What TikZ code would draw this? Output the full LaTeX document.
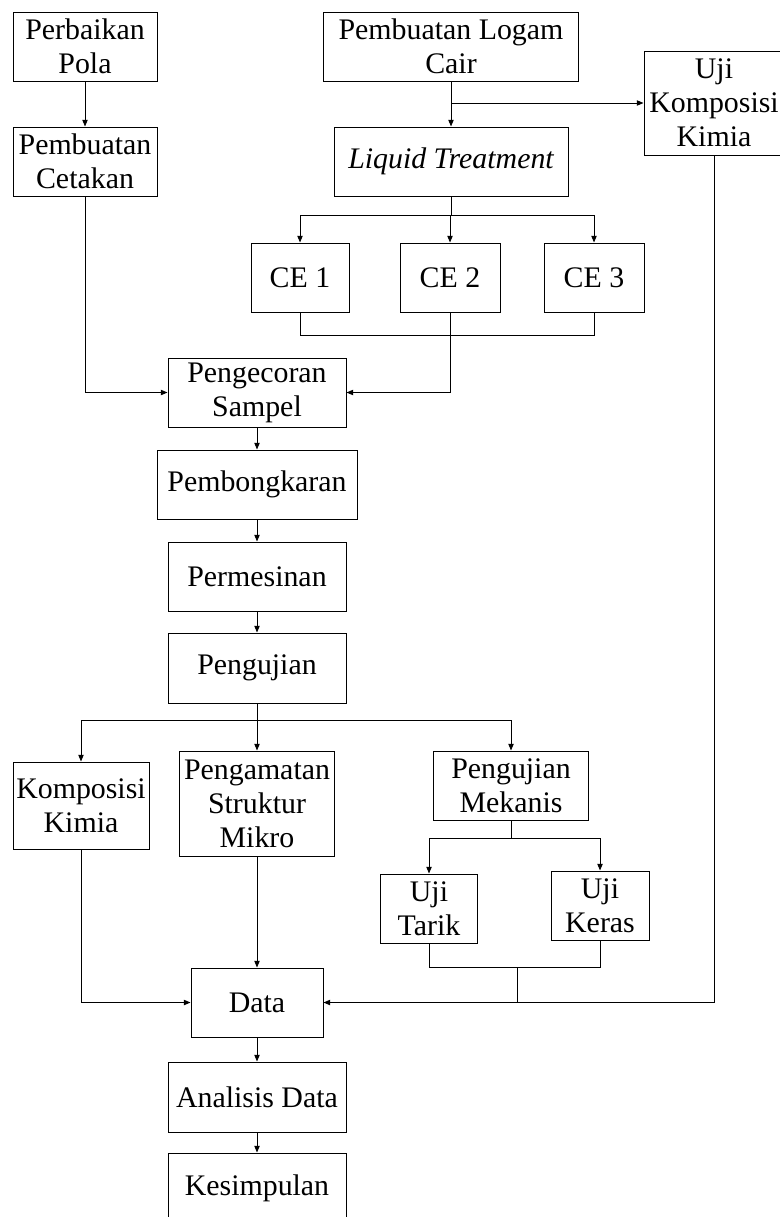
\documentclass[tikz,border=0pt]{standalone}
\usepackage{fontspec}
\setmainfont{Liberation Serif}
\usetikzlibrary{arrows.meta}

\tikzset{every picture/.style={line width=0.75pt}}
\tikzset{
  box/.style 2 args={draw, minimum width=#1*0.75pt, minimum height=#2*0.75pt, inner sep=0pt, align=center, font=\fontsize{22.4}{25.5}\selectfont},
  arr/.style={-{Triangle[length=5pt,width=4pt]}}
}

\begin{document}
\begin{tikzpicture}[x=0.75pt,y=0.75pt,yscale=-1,xscale=1]
	\useasboundingbox (0,0) rectangle (780,1217);

	%Shape: Rectangle [top row]
	\node[box={144}{69}] (pola) at (85,46.5) {Perbaikan\\Pola};
	\node[box={144}{69}] (cetakan) at (85,161.5) {Pembuatan\\Cetakan};
	\node[box={255}{69}] (logam) at (451,46.5) {Pembuatan Logam\\Cair};
	\node[box={234}{69}] (liquid) at (451,161.5) {\itshape Liquid Treatment};
	\node[box={140}{104}] (ujikomp) at (714,103) {Uji\\Komposisi\\Kimia};

	%Shape: Rectangle [CE]
	\node[box={98}{69}] (ce1) at (300,277.5) {CE 1};
	\node[box={100}{69}] (ce2) at (450,277.5) {CE 2};
	\node[box={100}{69}] (ce3) at (594,277.5) {CE 3};

	%Shape: Rectangle [main column]
	\node[box={178}{69}] (cor) at (257,392.5) {Pengecoran\\Sampel};
	\node[box={200}{69}] (bongkar) at (257,484.5) {Pembongkaran};
	\node[box={178}{69}] (mesin) at (257,576.5) {Permesinan};
	\node[box={178}{70}] (uji) at (257,668) {Pengujian};

	%Shape: Rectangle [tests]
	\node[box={136}{87}] (kimia) at (81,805.5) {Komposisi\\Kimia};
	\node[box={155}{105}] (mikro) at (257,803.5) {Pengamatan\\Struktur\\Mikro};
	\node[box={155}{69}] (mekanis) at (511,785.5) {Pengujian\\Mekanis};
	\node[box={97}{69}] (tarik) at (429,908.5) {Uji\\Tarik};
	\node[box={98}{69}] (keras) at (600,905.5) {Uji\\Keras};

	%Shape: Rectangle [bottom]
	\node[box={132}{69}] (data) at (257,1002.5) {Data};
	\node[box={178}{70}] (analisis) at (257,1097) {Analisis Data};
	\node[box={178}{70}] (simpul) at (257,1188) {Kesimpulan};

	%Straight Lines [top]
	\draw[arr] (pola) -- (cetakan);
	\draw[arr] (logam) -- (liquid);
	\draw[arr] (logam.south |- ujikomp.west) -- (ujikomp.west);
	\draw[arr] (cetakan.south) |- (cor.west);

	%Straight Lines [CE]
	\coordinate (cesplit) at (451,215);
	\draw (liquid.south) -- (cesplit);
	\draw[arr] (cesplit) -| (ce1.north);
	\draw[arr] (cesplit) -| (ce2.north);
	\draw[arr] (cesplit) -| (ce3.north);
	\draw (ce1.south) -- ++(0,23) -| (ce3.south);
	\draw[arr] (ce2.south) |- (cor.east);

	%Straight Lines [main column]
	\draw[arr] (cor) -- (bongkar);
	\draw[arr] (bongkar) -- (mesin);
	\draw[arr] (mesin) -- (uji);

	%Straight Lines [tests]
	\coordinate (ujisplit) at (257,720);
	\draw (uji.south) -- (ujisplit);
	\draw[arr] (ujisplit) -| (kimia.north);
	\draw[arr] (ujisplit) -- (mikro.north);
	\draw[arr] (ujisplit) -| (mekanis.north);
	\coordinate (meksplit) at (511,838);
	\draw (mekanis.south) -- (meksplit);
	\draw[arr] (meksplit) -| (tarik.north);
	\draw[arr] (meksplit) -| (keras.north);
	\coordinate (mekjoin) at (517,967);
	\draw (tarik.south) |- (mekjoin) -| (keras.south);
	\draw (mekjoin) -- (mekjoin |- data.east);

	%Straight Lines [to data]
	\draw[arr] (kimia.south) |- (data.west);
	\draw[arr] (mikro) -- (data);
	\draw[arr] (ujikomp.south) |- (data.east);
	\draw[arr] (data) -- (analisis);
	\draw[arr] (analisis) -- (simpul);

\end{tikzpicture}
\end{document}
